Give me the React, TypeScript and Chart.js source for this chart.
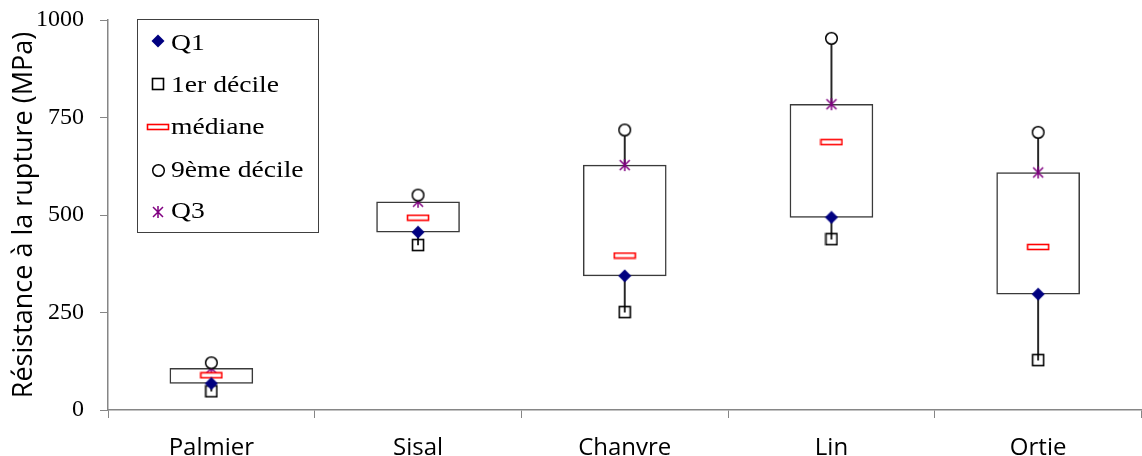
import React, { useEffect, useRef } from 'react';
import { Chart, registerables } from 'chart.js';
Chart.register(...registerables);

const categories = ['Palmier', 'Sisal', 'Chanvre', 'Lin', 'Ortie'];
const q1 = [68, 456, 344, 494, 297];
const decile1 = [48, 423, 251, 438, 128];
const mediane = [89, 493, 396, 687, 418];
const decile9 = [121, 551, 718, 953, 712];
const q3 = [107, 534, 628, 784, 609];
const yTicks = [0, 250, 500, 750, 1000];
const legendLabels = ['Q1', '1er décile', 'médiane', '9ème décile', 'Q3'];
const yTitle = 'Résistance à la rupture (MPa)';

const SERIF = '"Liberation Serif", "Times New Roman", Times, "Nimbus Roman", serif';
const SANS = '"Open Sans", sans-serif';

function mk(w: number, h: number, draw: (c: CanvasRenderingContext2D) => void) {
  const c = document.createElement('canvas');
  c.width = w;
  c.height = h;
  const ctx = c.getContext('2d')!;
  draw(ctx);
  return c;
}

function makeMarkers() {
  const diamond = mk(14, 14, (c) => {
    c.fillStyle = '#000080';
    c.beginPath();
    c.moveTo(7, 0.5);
    c.lineTo(13.5, 7);
    c.lineTo(7, 13.5);
    c.lineTo(0.5, 7);
    c.closePath();
    c.fill();
  });
  const square = mk(14, 14, (c) => {
    c.strokeStyle = '#000';
    c.lineWidth = 1.6;
    c.strokeRect(1.5, 1.5, 11, 11);
  });
  const median = mk(24, 8, (c) => {
    c.fillStyle = '#fff';
    c.fillRect(1, 1, 22, 6);
    c.strokeStyle = '#ff0000';
    c.lineWidth = 1.6;
    c.strokeRect(1.5, 1.5, 21, 5);
  });
  const circle = mk(15, 15, (c) => {
    c.fillStyle = '#fff';
    c.strokeStyle = '#000';
    c.lineWidth = 1.5;
    c.beginPath();
    c.arc(7.5, 7.5, 5.8, 0, Math.PI * 2);
    c.fill();
    c.stroke();
  });
  const star = mk(14, 14, (c) => {
    c.strokeStyle = '#800080';
    c.lineWidth = 1.5;
    c.beginPath();
    c.moveTo(2, 2);
    c.lineTo(12, 12);
    c.moveTo(12, 2);
    c.lineTo(2, 12);
    c.moveTo(7, 1);
    c.lineTo(7, 13);
    c.stroke();
  });
  return [diamond, square, median, circle, star];
}

export default function App() {
  const ref = useRef<HTMLCanvasElement | null>(null);
  useEffect(() => {
    let chart: any = null;
    let cancelled = false;
    const build = () => {
      if (cancelled || !ref.current) return;
      const markers = makeMarkers();
      const seriesValues = [q1, decile1, mediane, decile9, q3];
      const legendPlugin = {
        id: 'boxLegend',
        afterDraw(ch: any) {
          const ctx = ch.ctx as CanvasRenderingContext2D;
          ctx.save();
          ctx.fillStyle = '#fff';
          ctx.fillRect(137, 19, 181, 213);
          ctx.strokeStyle = '#404040';
          ctx.lineWidth = 1;
          ctx.strokeRect(137.5, 19.5, 181, 213);
          const markerY = [41, 84, 127, 170, 212];
          const baseY = [50, 92, 134, 177, 218];
          markers.forEach((m, i) => {
            ctx.drawImage(m, Math.round(158 - m.width / 2), Math.round(markerY[i] - m.height / 2));
            ctx.save();
            ctx.translate(171, baseY[i]);
            ctx.scale(1.2, 1);
            ctx.font = '23px ' + SERIF;
            ctx.textBaseline = 'alphabetic';
            ctx.fillStyle = '#000';
            ctx.fillText(legendLabels[i], 0, 0);
            ctx.restore();
          });
          ctx.restore();
        },
      };
      const pointDatasets = seriesValues.map((vals, i) => ({
        type: 'line' as const,
        label: legendLabels[i],
        data: vals,
        showLine: false,
        borderWidth: 0,
        pointStyle: markers[i],
        pointRadius: 0.5,
        pointBorderWidth: 0,
        pointHoverRadius: 0.5,
        pointHitRadius: 0,
        order: 1,
      }));
      chart = new Chart(ref.current, {
        type: 'bar',
        data: {
          labels: categories,
          datasets: [
            {
              type: 'bar',
              label: 'whisker',
              data: categories.map((_, i) => [decile1[i], decile9[i]]),
              backgroundColor: '#262626',
              borderWidth: 0,
              barThickness: 1.3,
              grouped: false,
              order: 3,
            } as any,
            {
              type: 'bar',
              label: 'box',
              data: categories.map((_, i) => [q1[i], q3[i]]),
              backgroundColor: '#fff',
              borderColor: '#3a3a3a',
              borderWidth: 1.5,
              borderSkipped: false,
              barThickness: 83,
              grouped: false,
              order: 2,
            } as any,
            ...pointDatasets,
          ],
        },
        options: {
          animation: false,
          responsive: false,
          maintainAspectRatio: false,
          events: [],
          layout: { padding: { top: 20, left: 0, right: 0, bottom: 0 } },
          plugins: {
            legend: { display: false },
            tooltip: { enabled: false },
          },
          scales: {
            x: {
              type: 'category',
              offset: true,
              grid: {
                offset: true,
                drawOnChartArea: false,
                drawTicks: true,
                tickLength: 8,
                color: '#868686',
              },
              border: { color: '#868686', width: 1.5 },
              ticks: {
                color: '#000',
                font: { family: SANS, size: 24 },
                padding: 16,
                maxRotation: 0,
              },
              afterFit: (s: any) => {
                s.height = 46;
                s.paddingLeft = 0;
                s.paddingRight = 0;
              },
            },
            y: {
              min: 0,
              max: 1000,
              afterBuildTicks: (s: any) => {
                s.ticks = yTicks.map((v) => ({ value: v }));
              },
              grid: {
                drawOnChartArea: false,
                drawTicks: true,
                tickLength: 8,
                color: '#868686',
              },
              border: { color: '#868686', width: 1.5 },
              ticks: {
                color: '#000',
                font: { family: SERIF, size: 24 },
                padding: 16,
                callback: (v: any) => String(v),
              },
              title: {
                display: true,
                text: yTitle,
                color: '#000',
                font: { family: SANS, size: 27 },
                padding: { top: 8, bottom: 0 },
              },
              afterFit: (s: any) => {
                s.width = 108;
                s.paddingTop = 0;
                s.paddingBottom = 0;
              },
            },
          },
        },
        plugins: [legendPlugin],
      } as any);
    };
    const fontsReady = (document as any).fonts
      ? Promise.all([
          (document as any).fonts.load('24px "Liberation Serif"'),
          (document as any).fonts.load('24px "Open Sans"'),
        ]).catch(() => null)
      : Promise.resolve(null);
    fontsReady.then(build);
    return () => {
      cancelled = true;
      if (chart) chart.destroy();
    };
  }, []);
  return (
    <div style={{ position: 'fixed', left: 0, top: 0, width: 1142, height: 456, background: '#fff' }}>
      <canvas ref={ref} width={1142} height={456} style={{ display: 'block', width: 1142, height: 456 }} />
    </div>
  );
}
